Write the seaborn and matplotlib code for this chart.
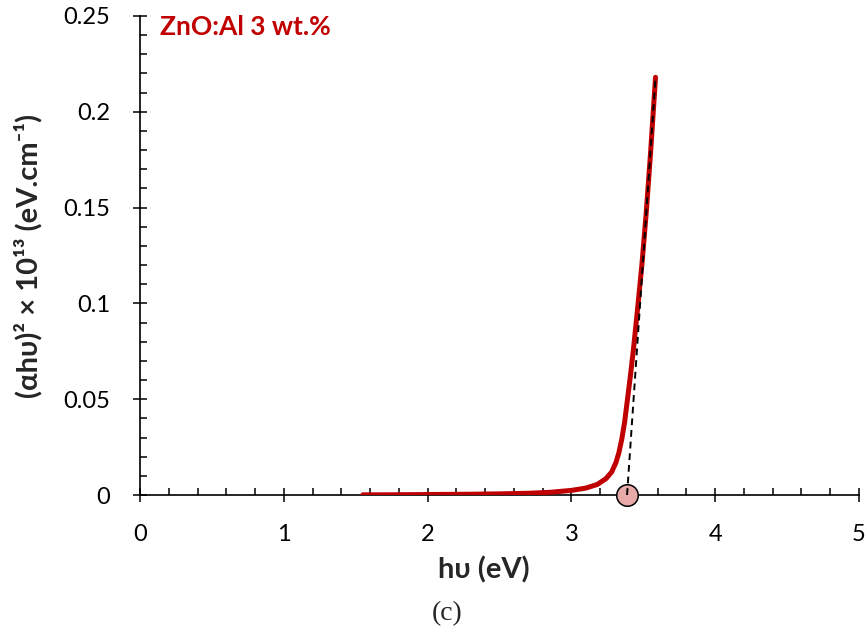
import matplotlib
matplotlib.use("Agg")
import matplotlib.pyplot as plt
from matplotlib.ticker import MultipleLocator
import numpy as np
import pandas as pd
import seaborn as sns

# Tauc plot data: photon energy (eV) and (alpha*h*nu)^2 x 1e13
photon_energy = [1.55, 1.70, 1.90, 2.10, 2.30, 2.50, 2.70, 2.85, 3.00, 3.10,
                 3.18, 3.24, 3.28, 3.31, 3.33, 3.35, 3.37, 3.39, 3.41, 3.43,
                 3.46, 3.49, 3.52, 3.55, 3.585]
tauc_values = [0.0001, 0.0001, 0.0002, 0.0003, 0.0004, 0.0006, 0.0009, 0.0014,
               0.0024, 0.0036, 0.0055, 0.0085, 0.0120, 0.0170, 0.0220, 0.0290,
               0.0380, 0.0500, 0.0620, 0.0750, 0.0970, 0.1200, 0.1470, 0.1780,
               0.2180]

# Linear extrapolation to the energy axis
tangent_x = [3.387, 3.585]
tangent_y = [0.0, 0.218]
band_gap = 3.387

x_ticks = [0, 1, 2, 3, 4, 5]
y_ticks = [0, 0.05, 0.1, 0.15, 0.2, 0.25]
y_tick_labels = ["0", "0.05", "0.1", "0.15", "0.2", "0.25"]

sample_label = "ZnO:Al 3 wt.%"
x_label = "hυ (eV)"
y_label = "(αhυ)² × 10¹³ (eV.cm⁻¹)"
panel_label = "(c)"

sns.set_style("ticks")
plt.rcParams["font.family"] = ["Lato", "DejaVu Sans"]

df = pd.DataFrame({"hv": photon_energy, "val": tauc_values})

fig = plt.figure(figsize=(8.66, 6.32), dpi=100)
ax = fig.add_axes([140 / 866, 1 - 495 / 632, 719 / 866, 479 / 632])

red = "#C00000"
sns.lineplot(data=df, x="hv", y="val", ax=ax, color=red, linewidth=3.6,
             zorder=3, solid_capstyle="round")
ax.plot(tangent_x, tangent_y, color="black", linewidth=1.4,
        linestyle=(0, (3.5, 2.5)), zorder=4)
ax.plot([band_gap], [0], marker="o", markersize=15.5,
        markerfacecolor="#E8A9A9", markeredgecolor="black",
        markeredgewidth=1.1, clip_on=False, zorder=2)

ax.set_xlim(0, 5)
ax.set_ylim(0, 0.25)
ax.set_xticks(x_ticks)
ax.set_xticklabels([str(t) for t in x_ticks])
ax.set_yticks(y_ticks)
ax.set_yticklabels(y_tick_labels)
ax.xaxis.set_minor_locator(MultipleLocator(0.2))
ax.yaxis.set_minor_locator(MultipleLocator(0.01))

for side in ("top", "right"):
    ax.spines[side].set_visible(False)
for side in ("left", "bottom"):
    ax.spines[side].set_linewidth(1.2)
    ax.spines[side].set_color("black")
    ax.spines[side].set_zorder(1.5)

ax.tick_params(which="major", direction="inout", length=10, width=1.1,
               colors="black", labelsize=17)
ax.tick_params(axis="x", which="major", pad=16)
ax.tick_params(axis="y", which="major", pad=16.5)
ax.tick_params(which="minor", direction="in", length=5, width=1.1,
               colors="black")

ax.set_xlabel(x_label, fontsize=21, fontweight="bold")
ax.xaxis.set_label_coords((484 - 140) / 719, -(570 - 495) / 479)
ax.xaxis.label.set_va("center")
ax.set_ylabel(y_label, fontsize=21, fontweight="bold")
ax.yaxis.set_label_coords(-(140 - 28) / 719, 0.5)
ax.yaxis.label.set_va("center")

ax.text(20 / 719, 1 - (27 - 16) / 479, sample_label, transform=ax.transAxes,
        color=red, fontsize=19, fontweight="bold", va="center", ha="left")
fig.text(447 / 866, 1 - 614 / 632, panel_label, fontsize=20,
         family="Liberation Serif", ha="center", va="center")

fig.savefig("out.png", dpi=100, facecolor="white")
